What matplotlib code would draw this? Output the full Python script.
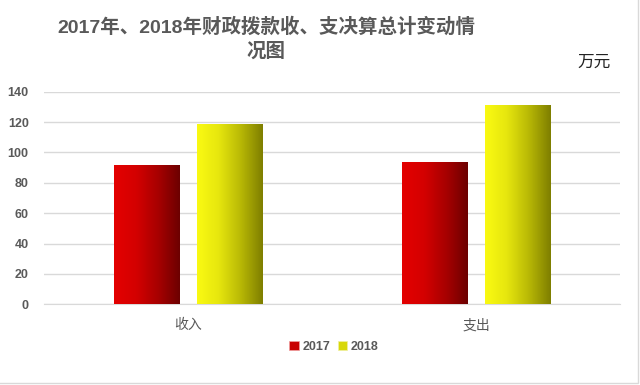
import numpy as np
import matplotlib
matplotlib.use('Agg')
import matplotlib.pyplot as plt
from matplotlib.colors import LinearSegmentedColormap
from matplotlib.patches import Patch, Rectangle

plt.rcParams['font.family'] = ['Liberation Sans', 'Noto Sans CJK SC', 'DejaVu Sans']

categories = ['收入', '支出']
years = ['2017', '2018']
values_2017 = [91, 93]
values_2018 = [118, 131]
y_ticks = [0, 20, 40, 60, 80, 100, 120, 140]
title = '2017年、2018年财政拨款收、支决算总计变动情\n况图'
unit = '万元'

gray = '#595959'
red_cmap = LinearSegmentedColormap.from_list('r', ['#e40000', '#d40000', '#a80000', '#6c0000'])
yel_cmap = LinearSegmentedColormap.from_list('y', ['#fafa12', '#e6e60e', '#b8b805', '#7e7e00'])


def gradient_bar(ax, x, h, w, cmap):
    grad = np.linspace(0, 1, 256).reshape(1, -1)
    ax.imshow(grad, cmap=cmap, extent=[x - w / 2, x + w / 2, 0, h],
              aspect='auto', origin='lower', zorder=3, interpolation='bicubic')


def main():
    fig = plt.figure(figsize=(6.4, 3.85), dpi=100)
    ax = fig.add_axes([44 / 640, 1 - 304.3 / 385, 576 / 640, 212.6 / 385])

    x = np.arange(len(categories))
    w = 0.226
    off = 0.143
    for i in x:
        gradient_bar(ax, i - off, values_2017[i], w, red_cmap)
        gradient_bar(ax, i + off, values_2018[i], w, yel_cmap)

    ax.set_xlim(-0.5, len(categories) - 0.5)
    ax.set_ylim(0, 140)
    ax.set_yticks(y_ticks)
    ax.set_yticklabels([str(t) for t in y_ticks], fontsize=9, fontweight='bold', color=gray)
    ax.set_xticks(x)
    ax.set_xticklabels(categories, fontsize=10, color=gray, family=['Noto Sans CJK SC'])
    ax.tick_params(axis='y', length=0, pad=11)
    ax.tick_params(axis='x', length=0, pad=10)
    ax.grid(axis='y', color='#d9d9d9', linewidth=1)
    ax.set_axisbelow(True)
    for s in ['top', 'right', 'left']:
        ax.spines[s].set_visible(False)
    ax.spines['bottom'].set_color('#d9d9d9')

    handles = [Patch(facecolor='#c80000', edgecolor='#f0a0a0', linewidth=0.5),
               Patch(facecolor='#d8d80a', edgecolor='#f0f0a0', linewidth=0.5)]
    fig.legend(handles, years, loc='center', bbox_to_anchor=(334 / 640, 1 - 347 / 385),
               ncol=2, frameon=False, handlelength=0.75, handleheight=0.75,
               handletextpad=0.3, columnspacing=0.6,
               prop={'size': 9, 'weight': 'bold'}, labelcolor=gray)

    fig.text(266 / 640, 1 - 39 / 385, title, ha='center', va='center',
             fontsize=14, fontweight='bold', color=gray, linespacing=1.35,
             family=['Liberation Sans', 'Noto Sans CJK SC'])
    fig.text(594 / 640, 1 - 62 / 385, unit, ha='center', va='center',
             fontsize=12, color='#222222', family=['Noto Sans CJK SC'])

    fig.patches.append(Rectangle((-0.01, 2.5 / 385), 638 / 640 + 0.01, 1.1,
                                 transform=fig.transFigure, fill=False,
                                 edgecolor='#d9d9d9', linewidth=1))

    fig.savefig('out.png', dpi=100)


if __name__ == '__main__':
    main()
